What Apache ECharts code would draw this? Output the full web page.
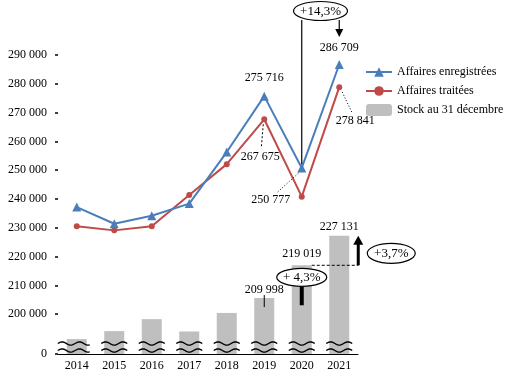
<!DOCTYPE html>
<html><head><meta charset="utf-8">
<script src="https://cdn.jsdelivr.net/npm/echarts@6/dist/echarts.min.js"></script>
<style>html,body{margin:0;padding:0;background:#fff}#c{width:519px;height:381px}</style>
</head><body><div id="c"></div>
<script>
// ---- data ----
const categories = ['2014', '2015', '2016', '2017', '2018', '2019', '2020', '2021'];
const enregistrees = [237200, 231400, 234200, 238400, 256300, 275716, 250777, 286709];
const traitees = [230500, 229100, 230500, 241400, 252100, 267675, 240800, 278841];
const stock = [198700, 200900, 204200, 200800, 205900, 209998, 219019, 227131];
const yTicks = [0, 200000, 210000, 220000, 230000, 240000, 250000, 260000, 270000, 280000, 290000];

// broken axis: values >= 200 000 shifted down, 0 kept at origin
const SHIFT = 186170;
const toDisp = v => (v === 0 ? 0 : v - SHIFT);
const fromDisp = d => (d === 0 ? 0 : Math.round(d + SHIFT));
const fr = n => String(n).replace(/\B(?=(\d{3})+(?!\d))/g, ' ');

const FONT = '"Liberation Serif", "DejaVu Serif", serif';
const BLUE = '#4A7EBB', RED = '#BE4B48', GREY = '#BFBFBF';

const chart = echarts.init(document.getElementById('c'), null, {renderer: 'canvas'});

const enrLabelCfg = {
  5: {show: true, position: 'top', distance: 8},
  6: {show: true, position: 'bottom', distance: 21, offset: [-31, 0]},
  7: {show: true, position: 'top', distance: 6}
};
const trLabelCfg = {
  5: {show: true, position: 'bottom', distance: 29, offset: [-4, 0]},
  7: {show: true, position: 'bottom', distance: 25, offset: [16, 0]}
};
const stockLabelCfg = {
  5: {show: true, position: 'top', distance: 2},
  6: {show: true, position: 'top', distance: 5},
  7: {show: true, position: 'top', distance: 3}
};

const option = {
  animation: false,
  textStyle: {fontFamily: FONT},
  grid: {left: 58, right: 161, top: 55, bottom: 27, containLabel: false},
  legend: {
    orient: 'vertical', left: 360, top: 61,
    itemWidth: 26, itemHeight: 12, itemGap: 7,
    textStyle: {fontFamily: FONT, fontSize: 12, color: '#000'},
    data: ['Affaires enregistrées', 'Affaires traitées', 'Stock au 31 décembre']
  },
  xAxis: {
    type: 'category', data: categories,
    axisLine: {show: true, lineStyle: {color: '#000', width: 1}},
    axisTick: {show: false},
    axisLabel: {color: '#000', fontFamily: FONT, fontSize: 12, margin: 6}
  },
  yAxis: [{
    type: 'value', min: 0, max: toDisp(290000),
    axisLine: {show: false},
    splitLine: {show: false},
    axisTick: {show: true, length: 3, inside: false, customValues: yTicks.map(toDisp), lineStyle: {color: '#000', width: 1.5}},
    axisLabel: {
      color: '#000', fontFamily: FONT, fontSize: 12, margin: 11,
      customValues: yTicks.map(toDisp),
      formatter: v => fr(fromDisp(v))
    }
  }, {
    type: 'value', min: 194600, max: 276900, show: false, splitLine: {show: false}
  }],
  series: [{
    name: 'Stock au 31 décembre', type: 'bar', yAxisIndex: 1, barWidth: 20, z: 2,
    itemStyle: {color: GREY},
    data: stock.map((v, i) => ({value: v, label: stockLabelCfg[i] || {show: false}})),
    label: {color: '#000', fontFamily: FONT, fontSize: 12, formatter: p => fr(p.value)}
  }, {
    name: 'breaks', type: 'custom', yAxisIndex: 0, z: 3, silent: true,
    data: categories.map((c, i) => [i, 0]),
    renderItem: (params, api) => {
      const p = api.coord([api.value(0), 0]);
      const cx = p[0], by = p[1];
      const x0 = params.dataIndex === 0 ? cx - 19 : cx - 13;
      const x1 = cx + 13;
      const wave = y => {
        const pts = [];
        const n = 24;
        for (let k = 0; k <= n; k++) {
          const t = k / n;
          pts.push([x0 + (x1 - x0) * t, y - 1.6 * Math.sin(t * Math.PI * 3 * (x1 - x0) / 26)]);
        }
        return pts;
      };
      return {
        type: 'group',
        children: [
          {type: 'polyline', shape: {points: wave(by - 10.5)}, style: {stroke: '#000', lineWidth: 1.4, fill: null}},
          {type: 'polyline', shape: {points: wave(by - 3.5)}, style: {stroke: '#000', lineWidth: 1.4, fill: null}}
        ]
      };
    }
  }, {
    name: 'Affaires enregistrées', type: 'line', yAxisIndex: 0, z: 5,
    symbol: 'triangle', symbolSize: 9,
    lineStyle: {color: BLUE, width: 2}, itemStyle: {color: BLUE},
    data: enregistrees.map((v, i) => ({value: toDisp(v), label: enrLabelCfg[i] || {show: false}})),
    label: {color: '#000', fontFamily: FONT, fontSize: 12, formatter: p => fr(enregistrees[p.dataIndex])}
  }, {
    name: 'Affaires traitées', type: 'line', yAxisIndex: 0, z: 4,
    symbol: 'circle', symbolSize: 6,
    lineStyle: {color: RED, width: 2}, itemStyle: {color: RED},
    data: traitees.map((v, i) => ({value: toDisp(v), label: trLabelCfg[i] || {show: false}})),
    label: {color: '#000', fontFamily: FONT, fontSize: 12, formatter: p => fr(traitees[p.dataIndex])}
  }]
};
chart.setOption(option);

// ---- annotations positioned from the axes ----
const P = (i, v) => chart.convertToPixel({xAxisIndex: 0, yAxisIndex: 0}, [i, toDisp(v)]);
const B = i => chart.convertToPixel({xAxisIndex: 0, yAxisIndex: 1}, [i, stock[i]]);
const e20 = P(6, enregistrees[6]), e21 = P(7, enregistrees[7]);
const t19 = P(5, traitees[5]), t21 = P(7, traitees[7]);
const b19 = B(5), b20 = B(6), b21 = B(7);

const txt = (x, y, s, size) => ({type: 'text', z: 20, style: {x, y, text: s, fill: '#000', font: (size || 13) + 'px ' + FONT, align: 'center', verticalAlign: 'middle'}});
const ell = (cx, cy, rx, ry) => ({type: 'ellipse', z: 19, shape: {cx, cy, rx, ry}, style: {fill: '#fff', stroke: '#000', lineWidth: 1.2}});
const ln = (x1, y1, x2, y2, w, dash) => ({type: 'line', z: 18, shape: {x1, y1, x2, y2}, style: {stroke: '#000', lineWidth: w || 1, lineDash: dash || null}});
const tri = pts => ({type: 'polygon', z: 18, shape: {points: pts}, style: {fill: '#000'}});

const topCx = (e20[0] + e21[0]) / 2;
const arrowX = b21[0] + 19;
const graphics = [
  // +14,3%
  ln(e20[0], 20, e20[0], e20[1] - 4, 1.2),
  ln(e21[0], 20, e21[0], 30, 1.2),
  tri([[e21[0] - 4, 29], [e21[0] + 4, 29], [e21[0], 37]]),
  ell(topCx, 11, 27, 9.5),
  txt(topCx, 11.5, '+14,3%'),
  // leader lines
  ln(t19[0] - 1, t19[1] + 5, t19[0] - 3, t19[1] + 29, 1, [2, 2]),
  ln(e20[0] - 24, e20[1] + 24, e20[0] - 2, e20[1] + 4, 1, [1, 2]),
  ln(t21[0] + 3, t21[1] + 5, t21[0] + 13, t21[1] + 26, 1, [1, 2]),
  ln(b19[0], b19[1] - 3, b19[0], b19[1] + 9, 1),
  // +4,3%
  ln(b20[0], b20[1] + 21, b20[0], b20[1] + 40, 4),
  ell(b20[0], b20[1] + 12, 25, 9),
  txt(b20[0], b20[1] + 12.5, '+ 4,3%'),
  // +3,7%
  ln(b20[0] + 10, b20[1], arrowX, b20[1], 1, [3, 2]),
  ln(arrowX, b20[1], arrowX, b21[1] + 8, 3),
  tri([[arrowX - 5, b21[1] + 9], [arrowX + 5, b21[1] + 9], [arrowX, b21[1]]]),
  ell(arrowX + 33, b20[1] - 12, 24, 10),
  txt(arrowX + 33, b20[1] - 11.5, '+3,7%')
];
chart.setOption({graphic: graphics});
</script>
</body></html>
